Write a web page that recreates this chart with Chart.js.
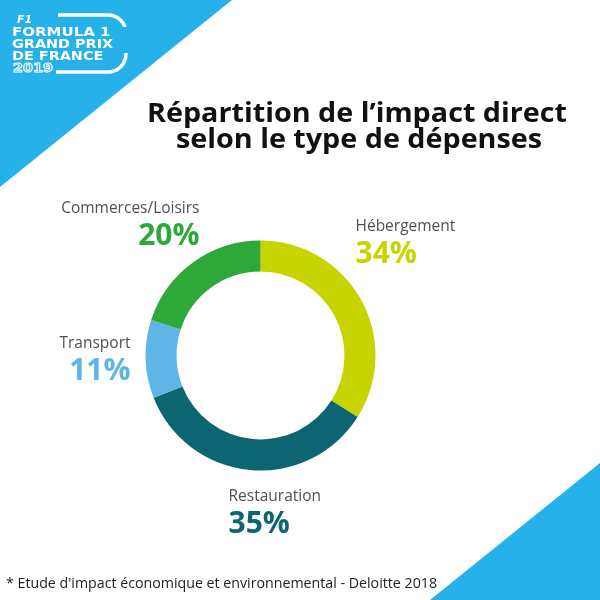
<!DOCTYPE html>
<html lang="fr">
<head>
<meta charset="utf-8">
<title>Répartition de l'impact direct</title>
<script src="https://cdn.jsdelivr.net/npm/chart.js@4/dist/chart.umd.min.js"></script>
<style>
  html, body { margin: 0; padding: 0; background: #fff; }
  canvas { display: block; }
</style>
</head>
<body>
<canvas id="graf" width="600" height="600"></canvas>
<script>
/* Données */
const CATEGORIES = ['Hébergement', 'Restauration', 'Transport', 'Commerces/Loisirs'];
const VALEURS = [34, 35, 11, 20];
const COULEURS = ['#c8d400', '#0b6672', '#5db6e6', '#2fa83a'];
const TITRE = ["Répartition de l’impact direct", 'selon le type de dépenses'];
const SOURCE = "* Etude d'impact économique et environnemental - Deloitte 2018";

/* Placement des étiquettes (décalage par rapport au centre de l'anneau) */
const ANCRES = [
  { dx: 95, dy: -125, align: 'left' },
  { dx: -32, dy: 145, align: 'left' },
  { dx: -130, dy: -8, align: 'right' },
  { dx: -61, dy: -143, align: 'right' }
];

const BLEU = '#27b1ea';
const POLICE = "'Open Sans', sans-serif";

/* Texte étiré horizontalement (la police d'origine est plus large) */
function texteLarge(ctx, txt, x, y, etirement) {
  ctx.save();
  ctx.translate(x, y);
  ctx.scale(etirement, 1);
  ctx.fillText(txt, 0, 0);
  ctx.restore();
}

/* Fond : triangles bleus et logo */
const fond = {
  id: 'fond',
  beforeDraw(chart) {
    const ctx = chart.ctx;
    ctx.save();
    ctx.fillStyle = '#fff';
    ctx.fillRect(0, 0, 600, 600);
    ctx.fillStyle = BLEU;
    ctx.beginPath();
    ctx.moveTo(0, 0); ctx.lineTo(232, 0); ctx.lineTo(0, 187); ctx.closePath();
    ctx.fill();
    ctx.beginPath();
    ctx.moveTo(600, 463); ctx.lineTo(600, 600); ctx.lineTo(430, 600); ctx.closePath();
    ctx.fill();

    // logo simplifié
    ctx.strokeStyle = '#fff';
    ctx.lineWidth = 3.5;
    ctx.beginPath();
    ctx.moveTo(58, 15);
    ctx.lineTo(108, 15);
    ctx.arcTo(126, 15, 126, 35, 18);
    ctx.lineTo(126, 53);
    ctx.arcTo(126, 72, 106, 72, 18);
    ctx.lineTo(56, 72);
    ctx.stroke();
    ctx.fillStyle = BLEU;
    ctx.fillRect(112, 27, 16, 26);
    ctx.fillStyle = '#fff';
    ctx.font = "italic bold 11px 'DejaVu Sans'";
    ctx.fillText('F1', 17, 23);
    ctx.font = "bold 12px 'DejaVu Sans'";
    texteLarge(ctx, 'FORMULA 1', 12, 36, 1.25);
    texteLarge(ctx, 'GRAND PRIX', 12, 48, 1.2);
    texteLarge(ctx, 'DE FRANCE', 12, 60, 1.2);
    ctx.lineWidth = 1;
    ctx.save();
    ctx.translate(13, 72);
    ctx.scale(1.2, 1);
    ctx.strokeText('2019', 0, 0);
    ctx.restore();
    ctx.restore();
  }
};

/* Titre, étiquettes et source */
const textes = {
  id: 'textes',
  afterDraw(chart) {
    const ctx = chart.ctx;
    const arc = chart.getDatasetMeta(0).data[0];
    const cx = arc.x, cy = arc.y;
    ctx.save();
    ctx.fillStyle = '#111';
    ctx.textAlign = 'center';
    ctx.font = `bold 26px ${POLICE}`;
    const k = 420 / ctx.measureText(TITRE[0]).width;
    texteLarge(ctx, TITRE[0], 357, 122, k);
    texteLarge(ctx, TITRE[1], 359, 148, k);

    CATEGORIES.forEach((nom, i) => {
      const a = ANCRES[i];
      const x = cx + a.dx, y = cy + a.dy;
      ctx.textAlign = a.align;
      ctx.fillStyle = '#505050';
      ctx.font = `15.5px ${POLICE}`;
      ctx.fillText(nom, x, y);
      ctx.fillStyle = COULEURS[i];
      ctx.font = `bold 30px ${POLICE}`;
      ctx.fillText(VALEURS[i] + '%', x, y + 32);
    });

    ctx.textAlign = 'left';
    ctx.fillStyle = '#222';
    ctx.font = `14px ${POLICE}`;
    const ks = 431 / ctx.measureText(SOURCE).width;
    texteLarge(ctx, SOURCE, 6, 588, ks);
    ctx.restore();
  }
};

new Chart(document.getElementById('graf'), {
  type: 'doughnut',
  data: {
    labels: CATEGORIES,
    datasets: [{ data: VALEURS, backgroundColor: COULEURS, borderWidth: 0 }]
  },
  options: {
    responsive: false,
    animation: false,
    cutout: '73%',
    layout: { padding: { left: 145.5, right: 224.5, top: 240.5, bottom: 129.5 } },
    plugins: { legend: { display: false }, tooltip: { enabled: false } }
  },
  plugins: [fond, textes]
});
</script>
</body>
</html>
